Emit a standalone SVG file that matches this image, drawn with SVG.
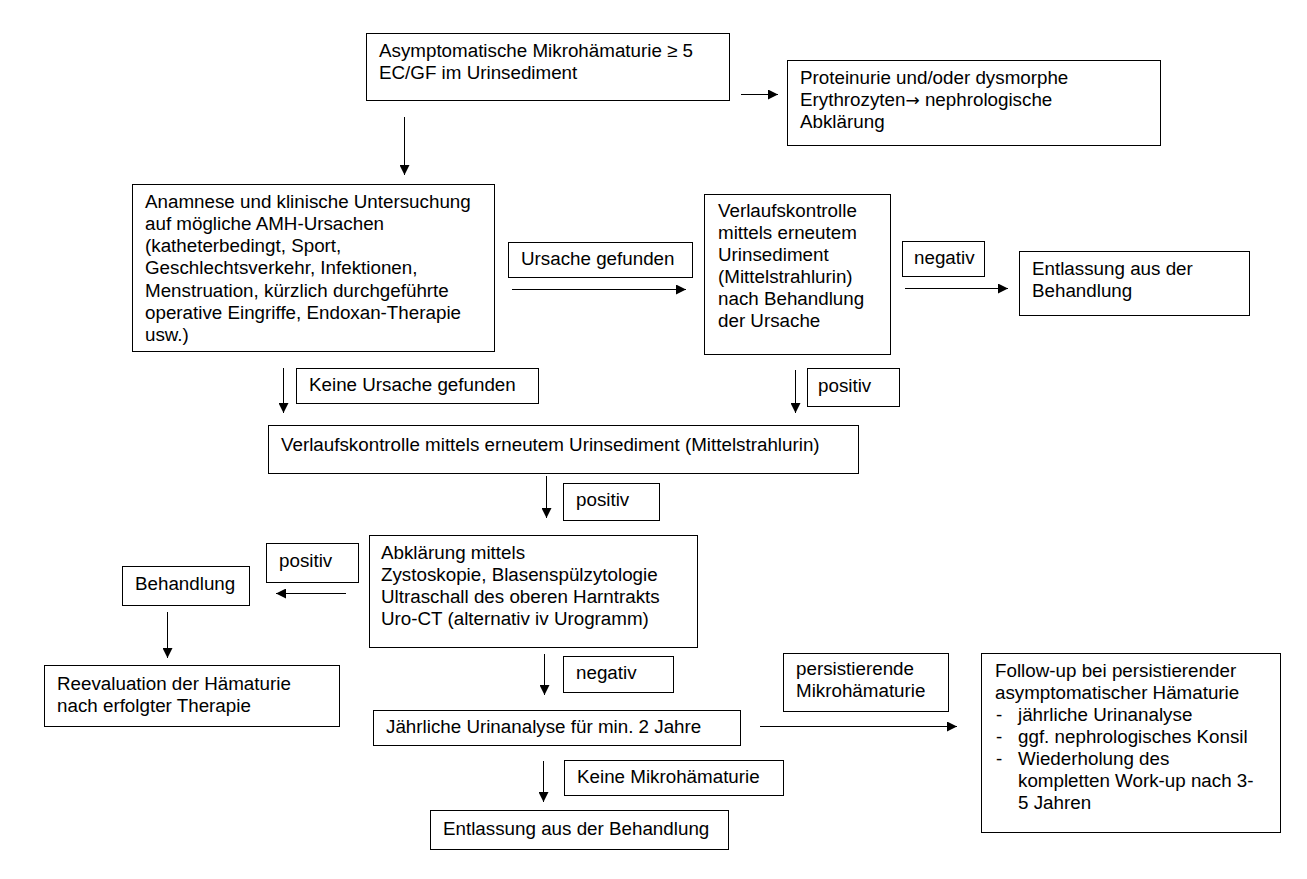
<svg xmlns="http://www.w3.org/2000/svg" width="1307" height="879" viewBox="0 0 1307 879">
<defs>
<marker id="ah" viewBox="0 0 10 10" refX="10" refY="5" markerWidth="10" markerHeight="10" markerUnits="userSpaceOnUse" orient="auto">
<path d="M0,0 L10,5 L0,10 z" fill="#000"/>
</marker>
<style>
rect{fill:#fff;stroke:#000;stroke-width:1}
text{font-family:"Liberation Sans",Arial,sans-serif;font-size:18.8px;fill:#000}
.arr{font-family:"DejaVu Sans",sans-serif;font-size:17px}
.c line{stroke:#000;stroke-width:1;marker-end:url(#ah)}
</style>
</defs>
<rect x="0" y="0" width="1307" height="879" style="stroke:none"/>
<g id="n1"><rect x="366.5" y="33.5" width="363" height="67"/><text x="379" y="57">Asymptomatische Mikrohämaturie ≥ 5</text><text x="379" y="79">EC/GF im Urinsediment</text></g>
<g id="n2"><rect x="787.5" y="60.5" width="373" height="85"/><text x="800" y="84">Proteinurie und/oder dysmorphe</text><text x="800" y="106">Erythrozyten<tspan class="arr">→</tspan> nephrologische</text><text x="800" y="128">Abklärung</text></g>
<g id="n3"><rect x="132.5" y="184.5" width="362" height="167"/>
<text x="145" y="208">Anamnese und klinische Untersuchung</text>
<text x="145" y="230">auf mögliche AMH-Ursachen</text>
<text x="145" y="252">(katheterbedingt, Sport,</text>
<text x="145" y="274">Geschlechtsverkehr, Infektionen,</text>
<text x="145" y="297">Menstruation, kürzlich durchgeführte</text>
<text x="145" y="319">operative Eingriffe, Endoxan-Therapie</text>
<text x="145" y="341">usw.)</text></g>
<g id="l1"><rect x="508.5" y="242.5" width="184" height="35"/><text x="521" y="265">Ursache gefunden</text></g>
<g id="n4"><rect x="704.5" y="194.5" width="186" height="160"/>
<text x="718" y="217">Verlaufskontrolle</text>
<text x="718" y="239">mittels erneutem</text>
<text x="718" y="261">Urinsediment</text>
<text x="718" y="283">(Mittelstrahlurin)</text>
<text x="718" y="305">nach Behandlung</text>
<text x="718" y="327">der Ursache</text></g>
<g id="l2"><rect x="902.5" y="241.5" width="82" height="35"/><text x="914" y="264">negativ</text></g>
<g id="n5"><rect x="1019.5" y="251.5" width="230" height="64"/><text x="1032" y="275">Entlassung aus der</text><text x="1032" y="297">Behandlung</text></g>
<g id="l3"><rect x="296.5" y="368.5" width="242" height="35"/><text x="309" y="391">Keine Ursache gefunden</text></g>
<g id="l4"><rect x="807.5" y="368.5" width="92" height="38"/><text x="818" y="392">positiv</text></g>
<g id="n6"><rect x="268.5" y="425.5" width="590" height="48"/><text x="281" y="451">Verlaufskontrolle mittels erneutem Urinsediment (Mittelstrahlurin)</text></g>
<g id="l5"><rect x="563.5" y="483.5" width="96" height="37"/><text x="576" y="506">positiv</text></g>
<g id="n7"><rect x="369.5" y="535.5" width="328" height="112"/>
<text x="381" y="559">Abklärung mittels</text>
<text x="381" y="581">Zystoskopie, Blasenspülzytologie</text>
<text x="381" y="603">Ultraschall des oberen Harntrakts</text>
<text x="381" y="625">Uro-CT (alternativ iv Urogramm)</text></g>
<g id="l6"><rect x="266.5" y="543.5" width="92" height="39"/><text x="279" y="567">positiv</text></g>
<g id="n8"><rect x="122.5" y="566.5" width="127" height="39"/><text x="135" y="590">Behandlung</text></g>
<g id="n9"><rect x="44.5" y="665.5" width="295" height="61"/><text x="57" y="690">Reevaluation der Hämaturie</text><text x="57" y="712">nach erfolgter Therapie</text></g>
<g id="l7"><rect x="563.5" y="656.5" width="110" height="36"/><text x="576" y="679">negativ</text></g>
<g id="n10"><rect x="373.5" y="710.5" width="367" height="35"/><text x="386" y="733">Jährliche Urinanalyse für min. 2 Jahre</text></g>
<g id="l8"><rect x="783.5" y="653.5" width="165" height="58"/><text x="796" y="675">persistierende</text><text x="796" y="697">Mikrohämaturie</text></g>
<g id="n11"><rect x="981.5" y="653.5" width="299" height="179"/>
<text x="995" y="677">Follow-up bei persistierender</text>
<text x="995" y="699">asymptomatischer Hämaturie</text>
<text x="996" y="721">-</text><text x="1018" y="721">jährliche Urinanalyse</text>
<text x="996" y="743">-</text><text x="1018" y="743">ggf. nephrologisches Konsil</text>
<text x="996" y="765">-</text><text x="1018" y="765">Wiederholung des</text>
<text x="1018" y="787">kompletten Work-up nach 3-</text>
<text x="1018" y="809">5 Jahren</text></g>
<g id="l9"><rect x="564.5" y="760.5" width="219" height="35"/><text x="577" y="783">Keine Mikrohämaturie</text></g>
<g id="n12"><rect x="430.5" y="810.5" width="298" height="39"/><text x="443" y="835">Entlassung aus der Behandlung</text></g>
<g id="connectors" class="c">
<line x1="741" y1="94.5" x2="778" y2="94.5"/>
<line x1="404.5" y1="117" x2="404.5" y2="175"/>
<line x1="512" y1="289.5" x2="686" y2="289.5"/>
<line x1="905" y1="288.5" x2="1008" y2="288.5"/>
<line x1="283.5" y1="368" x2="283.5" y2="413"/>
<line x1="795.5" y1="370" x2="795.5" y2="413"/>
<line x1="546.5" y1="476" x2="546.5" y2="518"/>
<line x1="346" y1="593.5" x2="276" y2="593.5"/>
<line x1="167.5" y1="612" x2="167.5" y2="658"/>
<line x1="544.5" y1="654" x2="544.5" y2="695"/>
<line x1="760" y1="726.5" x2="957" y2="726.5"/>
<line x1="543.5" y1="761" x2="543.5" y2="802"/>
</g>
</svg>
